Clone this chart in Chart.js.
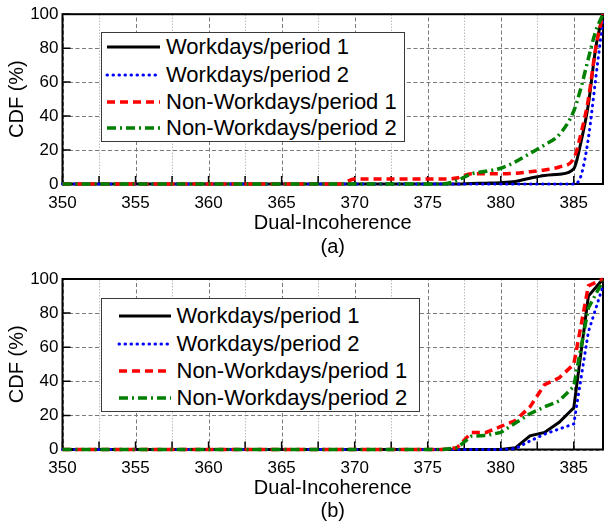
<!DOCTYPE html>
<html>
<head>
<meta charset="utf-8">
<script src="https://cdn.jsdelivr.net/npm/chart.js@4.4.1/dist/chart.umd.min.js"></script>
<style>
body { margin: 0; background: #fff; font-family: Arial, "Liberation Sans", sans-serif; }
#wrap { position: relative; width: 604px; height: 524px; overflow: hidden; }
.panel { position: absolute; left: 0; width: 604px; height: 262px; }
.legend { position: absolute; background: #fff; border: 1.5px solid #3a3a3a; box-sizing: border-box; }
.legend svg { position: absolute; }
.legend span { position: absolute; font-size: 22px; line-height: 26px; white-space: nowrap; color: #000; }
</style>
</head>
<body>
<div id="wrap">
  <div class="panel" style="top:0"><canvas id="chartA" width="604" height="262"></canvas></div>
  <div class="panel" style="top:262px"><canvas id="chartB" width="604" height="262"></canvas></div>
  <div id="legendA" class="legend" style="left:101px; top:32px; width:304px; height:110px;"></div>
  <div id="legendB" class="legend" style="left:101px; top:298px; width:319px; height:114px;"></div>
</div>
<script>
// Series names
const seriesNames = ['Workdays/period 1', 'Workdays/period 2', 'Non-Workdays/period 1', 'Non-Workdays/period 2'];

// (a) smooth CDF curves
const xA = [350, 369, 370, 376, 377, 378, 379, 380, 381, 382, 383, 384, 385, 385.5, 386, 386.5, 387];
const aWork1 = [0, 0, 0, 0, 0, 0.3, 0.5, 0.8, 1.5, 3.4, 5, 5.8, 9, 25, 47, 80, 100];
const aWork2 = [0, 0, 0, 0, 0, 0, 0, 0, 0, 0, 0, 0, 0, 5, 27, 62, 97];
const aNon1 = [0, 0, 3, 3, 3.5, 6, 6, 6, 6.3, 7.2, 8.3, 10, 15, 30, 50, 80, 100];
const aNon2 = [0, 0, 0, 0, 2, 6, 7.5, 9.3, 13, 18, 23, 29, 43, 57, 74, 90, 100];

// (b) piecewise CDF curves
const xB = [350, 376, 377, 378, 379, 380, 381, 382, 383, 384, 385, 386, 387];
const bWork1 = [0, 0, 0, 0, 0, 0, 1, 8, 10, 16, 24.5, 90, 100];
const bWork2 = [0, 0, 0, 0, 0, 0, 0.5, 5, 9, 12, 15, 69, 96];
const bNon1 = [0, 0, 1, 10, 10, 13.5, 17, 25, 38, 42, 50, 96, 100];
const bNon2 = [0, 0, 1, 7.8, 8.2, 10, 15.5, 21, 25, 28.5, 37, 83, 99];

// Axis ranges / ticks
const xMin = 350, xMax = 387, xStep = 2.5, xMajor = 5;
const yMin = 0, yMax = 100, yStep = 10, yMajor = 20;

// Line styles (black, blue, red, green)
const styles = [
  { color: '#000000', width: 3, dash: [], cap: 'butt', order: 4, svgDash: '' },
  { color: '#0000ff', width: 3, dash: [0.5, 5.5], cap: 'round', order: 3, svgDash: '0.5 5.5' },
  { color: '#ff0000', width: 3.5, dash: [8, 5], cap: 'butt', order: 2, svgDash: '8 5' },
  { color: '#008000', width: 3.5, dash: [9, 4, 2, 4], cap: 'butt', order: 1, svgDash: '9 4 2 4' }
];

const onStep = (v, m) => Math.abs(v % m) < 1e-6;

// Grid (dashed major, dotted minor), frame and inward ticks, all under the data lines
const framePlugin = {
  id: 'frame',
  beforeDatasetsDraw(chart) {
    const { ctx, chartArea: a, scales } = chart;
    const sx = scales.x, sy = scales.y;
    ctx.save();
    ctx.lineWidth = 1;
    [false, true].forEach(major => {
      ctx.strokeStyle = major ? '#7a7a7a' : '#bdbdbd';
      ctx.setLineDash(major ? [4, 2.5] : [1.5, 1.5]);
      ctx.beginPath();
      sx.ticks.forEach(t => {
        if (onStep(t.value, xMajor) !== major) return;
        const px = Math.round(sx.getPixelForValue(t.value)) + 0.5;
        ctx.moveTo(px, a.bottom); ctx.lineTo(px, a.top);
      });
      sy.ticks.forEach(t => {
        if (onStep(t.value, yMajor) !== major) return;
        const py = Math.round(sy.getPixelForValue(t.value)) + 0.5;
        ctx.moveTo(a.left, py); ctx.lineTo(a.right, py);
      });
      ctx.stroke();
    });
    ctx.setLineDash([]);
    ctx.strokeStyle = '#000';
    ctx.lineWidth = 1.5;
    ctx.beginPath();
    sx.ticks.forEach(t => {
      const px = sx.getPixelForValue(t.value);
      ctx.moveTo(px, a.bottom); ctx.lineTo(px, a.bottom - 8);
    });
    sy.ticks.forEach(t => {
      const py = sy.getPixelForValue(t.value);
      ctx.moveTo(a.left, py); ctx.lineTo(a.left + 8, py);
    });
    ctx.stroke();
    ctx.lineWidth = 2;
    ctx.strokeRect(a.left, a.top, a.right - a.left, a.bottom - a.top);
    ctx.restore();
  }
};

function makeDatasets(xs, series, smooth) {
  return series.map((vals, i) => ({
    label: seriesNames[i],
    data: xs.map((x, k) => ({ x: x, y: vals[k] })),
    borderColor: styles[i].color,
    borderWidth: styles[i].width,
    borderDash: styles[i].dash,
    borderCapStyle: styles[i].cap,
    order: styles[i].order,
    clip: 4,
    pointRadius: 0,
    fill: false,
    tension: smooth ? 0.4 : 0,
    cubicInterpolationMode: smooth ? 'monotone' : 'default'
  }));
}

function makeOptions(cfg) {
  return {
    responsive: false,
    animation: false,
    layout: { padding: { top: cfg.padTop, right: 1, left: 0, bottom: 0 } },
    plugins: { legend: { display: false }, tooltip: { enabled: false } },
    scales: {
      x: {
        type: 'linear', min: xMin, max: xMax,
        afterFit: s => { s.height = cfg.xHeight; },
        ticks: {
          stepSize: xStep, includeBounds: false, autoSkip: false, maxRotation: 0,
          padding: 9, color: '#000', font: { size: 17 },
          callback: v => (onStep(v, xMajor) ? v : '')
        },
        grid: { display: false, drawTicks: false },
        border: { display: false },
        title: {
          display: true, text: ['Dual-Incoherence', cfg.label], color: '#000',
          font: { size: 20, lineHeight: cfg.titleLH }, padding: { top: 0, bottom: cfg.titlePB }
        }
      },
      y: {
        min: yMin, max: yMax,
        afterFit: s => { s.width = 62.5; },
        ticks: {
          stepSize: yStep, padding: 4, color: '#000', font: { size: 17 },
          callback: v => (onStep(v, yMajor) ? v : '')
        },
        grid: { display: false, drawTicks: false },
        border: { display: false },
        title: {
          display: true, text: 'CDF (%)', color: '#000',
          font: { size: 20 }, padding: { top: 5, bottom: 0 }
        }
      }
    }
  };
}

Chart.defaults.font.family = 'Arial, "Liberation Sans", sans-serif';

new Chart(document.getElementById('chartA'), {
  type: 'line',
  data: { datasets: makeDatasets(xA, [aWork1, aWork2, aNon1, aNon2], true) },
  options: makeOptions({ padTop: 14, xHeight: 78, label: '(a)', titleLH: 1.22, titlePB: 2 }),
  plugins: [framePlugin]
});

new Chart(document.getElementById('chartB'), {
  type: 'line',
  data: { datasets: makeDatasets(xB, [bWork1, bWork2, bNon1, bNon2], false) },
  options: makeOptions({ padTop: 17, xHeight: 74.5, label: '(b)', titleLH: 1.17, titlePB: 0.5 }),
  plugins: [framePlugin]
});

// HTML legends placed inside the plot areas
function buildLegend(id, lineX0, lineX1, textX, rowY) {
  const box = document.getElementById(id);
  seriesNames.forEach((name, i) => {
    const st = styles[i];
    const cy = rowY[i];
    const svg = document.createElementNS('http://www.w3.org/2000/svg', 'svg');
    svg.setAttribute('width', lineX1 - lineX0 + 4);
    svg.setAttribute('height', 10);
    svg.style.left = (lineX0 - 2) + 'px';
    svg.style.top = (cy - 5) + 'px';
    const ln = document.createElementNS('http://www.w3.org/2000/svg', 'line');
    ln.setAttribute('x1', 2); ln.setAttribute('x2', lineX1 - lineX0 + 2);
    ln.setAttribute('y1', 5); ln.setAttribute('y2', 5);
    ln.setAttribute('stroke', st.color);
    ln.setAttribute('stroke-width', st.width);
    ln.setAttribute('stroke-linecap', st.cap);
    if (st.svgDash) ln.setAttribute('stroke-dasharray', st.svgDash);
    svg.appendChild(ln);
    box.appendChild(svg);
    const sp = document.createElement('span');
    sp.textContent = name;
    sp.style.left = textX + 'px';
    sp.style.top = (cy - 13) + 'px';
    box.appendChild(sp);
  });
}

buildLegend('legendA', 5, 58, 64, [14, 41.5, 68.5, 95]);
buildLegend('legendB', 16.5, 68.5, 74.5, [17, 44.5, 72, 98.5]);
</script>
</body>
</html>
